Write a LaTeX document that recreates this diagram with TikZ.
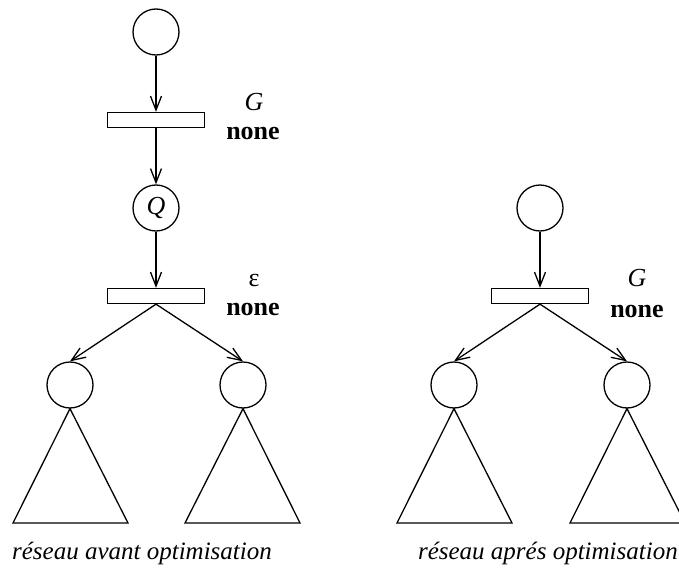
\documentclass[tikz,border=0pt]{standalone}
\usepackage{fontspec}
\setmainfont{Liberation Serif}
\usetikzlibrary{arrows.meta}
\begin{document}
\begin{tikzpicture}[x=1pt,y=-1pt,
  place/.style={draw,circle,minimum size=46pt,inner sep=0pt,line width=1.3pt,font=\fontsize{26}{28}\selectfont\itshape},
  trans/.style={draw,rectangle,minimum width=97pt,minimum height=15pt,inner sep=0pt,line width=1.3pt},
  arc/.style={line width=1.3pt,-{Straight Barb[length=14pt,width=11pt,line width=1.3pt]}},
  tri/.style={line width=1.3pt},
  lbl/.style={font=\fontsize{26}{28}\selectfont,inner sep=0pt},
  captxt/.style={font=\fontsize{25}{28}\selectfont\itshape,inner sep=0pt}]
\useasboundingbox (0,0) rectangle (679,575);
% left net
\node[place] (a1) at (156,32) {};
\node[trans] (t1) at (156,120) {};
\node[lbl] (g1) at (254,102) {\itshape G};
\node[lbl] (n1) at (253,134) {\bfseries none};
\node[place] (q) at (156,208) {Q};
\node[trans] (t2) at (156,296) {};
\node[lbl] (e1) at (254,280) {ε};
\node[lbl] (n2) at (253,309) {\bfseries none};
\node[place] (l1) at (70,385) {};
\node[place] (l2) at (243,385) {};
\draw[arc] (a1.south) -- (t1.north);
\draw[arc] (t1.south) -- (q.north);
\draw[arc] (q.south) -- (t2.north);
\draw[arc] (t2.south) -- (l1.north);
\draw[arc] (t2.south) -- (l2.north);
\draw[tri] (l1.south) -- (13,523) -- (128,523) -- cycle;
\draw[tri] (l2.south) -- (185,523) -- (300,523) -- cycle;
\node[captxt] (c1) at (142,553) {réseau avant optimisation};
% right net
\node[place] (b1) at (540,208) {};
\node[trans] (t3) at (540,296) {};
\node[lbl] (g2) at (637,278) {\itshape G};
\node[lbl] (n3) at (637,311) {\bfseries none};
\node[place] (r1) at (454,385) {};
\node[place] (r2) at (627,385) {};
\draw[arc] (b1.south) -- (t3.north);
\draw[arc] (t3.south) -- (r1.north);
\draw[arc] (t3.south) -- (r2.north);
\draw[tri] (r1.south) -- (397,523) -- (512,523) -- cycle;
\draw[tri] (r2.south) -- (570,523) -- (685,523) -- cycle;
\node[captxt,anchor=east] (c2) at (678,553) {réseau aprés optimisation};
\end{tikzpicture}
\end{document}
